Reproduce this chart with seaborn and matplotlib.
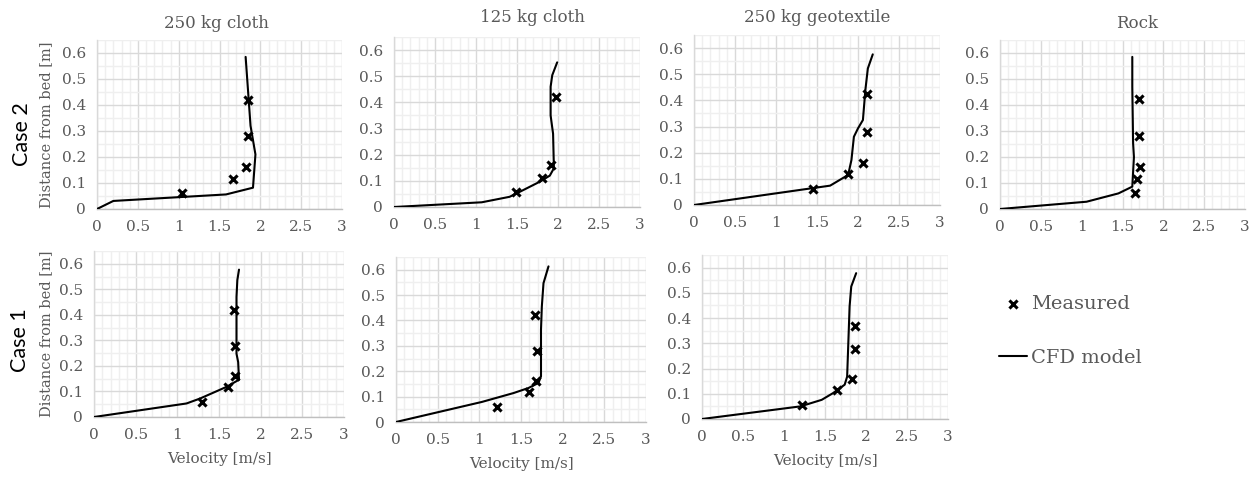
import matplotlib
matplotlib.use("Agg")
import matplotlib.pyplot as plt
from matplotlib.ticker import MultipleLocator
import seaborn as sns
import pandas as pd

# ---- velocity profiles: Case 2 (top row) ----
c2_cloth250_cfd_v = [0, 0.20, 1.58, 1.91, 1.94, 1.88, 1.82]
c2_cloth250_cfd_z = [0, 0.031, 0.056, 0.082, 0.21, 0.32, 0.585]
c2_cloth250_meas_v = [1.04, 1.66, 1.82, 1.85, 1.85]
c2_cloth250_meas_z = [0.06, 0.115, 0.16, 0.28, 0.42]

c2_cloth125_cfd_v = [0, 1.07, 1.41, 1.54, 1.78, 1.90, 1.95, 1.94, 1.91, 1.91, 1.93, 1.99]
c2_cloth125_cfd_z = [0, 0.018, 0.039, 0.059, 0.097, 0.12, 0.148, 0.28, 0.35, 0.46, 0.504, 0.553]
c2_cloth125_meas_v = [1.49, 1.81, 1.91, 1.98]
c2_cloth125_meas_z = [0.057, 0.112, 0.16, 0.42]

c2_geo250_cfd_v = [0, 1.66, 1.88, 1.92, 1.95, 2.00, 2.06, 2.09, 2.12, 2.18]
c2_geo250_cfd_z = [0, 0.074, 0.115, 0.172, 0.261, 0.293, 0.325, 0.44, 0.522, 0.576]
c2_geo250_meas_v = [1.45, 1.88, 2.06, 2.11, 2.11]
c2_geo250_meas_z = [0.06, 0.117, 0.162, 0.28, 0.423]

c2_rock_cfd_v = [0, 1.06, 1.45, 1.62, 1.64, 1.63, 1.62, 1.62]
c2_rock_cfd_z = [0, 0.028, 0.06, 0.086, 0.20, 0.252, 0.47, 0.585]
c2_rock_meas_v = [1.65, 1.68, 1.71, 1.70, 1.70]
c2_rock_meas_z = [0.06, 0.115, 0.162, 0.28, 0.425]

# ---- velocity profiles: Case 1 (bottom row) ----
c1_cloth250_cfd_v = [0, 1.11, 1.27, 1.43, 1.59, 1.74, 1.73, 1.71, 1.71, 1.72, 1.74]
c1_cloth250_cfd_z = [0, 0.053, 0.072, 0.095, 0.118, 0.146, 0.215, 0.248, 0.47, 0.536, 0.577]
c1_cloth250_meas_v = [1.30, 1.61, 1.69, 1.69, 1.68]
c1_cloth250_meas_z = [0.06, 0.117, 0.16, 0.278, 0.42]

c1_cloth125_cfd_v = [0, 1.03, 1.41, 1.59, 1.71, 1.74, 1.74, 1.75, 1.77, 1.83]
c1_cloth125_cfd_z = [0, 0.079, 0.114, 0.134, 0.154, 0.18, 0.364, 0.455, 0.547, 0.613]
c1_cloth125_meas_v = [1.21, 1.60, 1.68, 1.69, 1.67]
c1_cloth125_meas_z = [0.058, 0.117, 0.16, 0.281, 0.423]

c1_geo250_cfd_v = [0, 1.20, 1.46, 1.60, 1.74, 1.77, 1.80, 1.82, 1.88]
c1_geo250_cfd_z = [0, 0.05, 0.076, 0.103, 0.136, 0.168, 0.446, 0.525, 0.578]
c1_geo250_meas_v = [1.22, 1.65, 1.83, 1.87, 1.86]
c1_geo250_meas_z = [0.057, 0.116, 0.16, 0.278, 0.37]

column_titles = ["250 kg cloth", "125 kg cloth", "250 kg geotextile", "Rock"]
row_labels = ["Case 2", "Case 1"]
x_ticks = [0, 0.5, 1, 1.5, 2, 2.5, 3]
x_tick_labels = ["0", "0.5", "1", "1.5", "2", "2.5", "3"]
y_ticks = [0, 0.1, 0.2, 0.3, 0.4, 0.5, 0.6]
y_tick_labels = ["0", "0.1", "0.2", "0.3", "0.4", "0.5", "0.6"]

W, H = 1260, 478
TEXT = "#595959"
SERIF = "DejaVu Serif"

sns.set_theme(style="white")
plt.rcParams["font.family"] = [SERIF]

fig = plt.figure(figsize=(W / 100, H / 100), dpi=100)


def px_axes(left, right, top, bottom):
    return fig.add_axes([left / W, 1 - bottom / H, (right - left) / W, (bottom - top) / H])


# axes boxes in pixels: left, right, top (z=0.65), bottom (z=0)
panels = [
    (px_axes(97, 342, 40, 209), c2_cloth250_cfd_v, c2_cloth250_cfd_z, c2_cloth250_meas_v, c2_cloth250_meas_z),
    (px_axes(394, 640, 37, 207), c2_cloth125_cfd_v, c2_cloth125_cfd_z, c2_cloth125_meas_v, c2_cloth125_meas_z),
    (px_axes(694, 940, 35, 205), c2_geo250_cfd_v, c2_geo250_cfd_z, c2_geo250_meas_v, c2_geo250_meas_z),
    (px_axes(1000, 1245, 40, 209), c2_rock_cfd_v, c2_rock_cfd_z, c2_rock_meas_v, c2_rock_meas_z),
    (px_axes(94, 344, 251, 417), c1_cloth250_cfd_v, c1_cloth250_cfd_z, c1_cloth250_meas_v, c1_cloth250_meas_z),
    (px_axes(396, 646, 257, 422), c1_cloth125_cfd_v, c1_cloth125_cfd_z, c1_cloth125_meas_v, c1_cloth125_meas_z),
    (px_axes(702, 948, 255, 419), c1_geo250_cfd_v, c1_geo250_cfd_z, c1_geo250_meas_v, c1_geo250_meas_z),
]

for i, (ax, cv, cz, mv, mz) in enumerate(panels):
    cfd = pd.DataFrame({"v": cv, "z": cz})
    meas = pd.DataFrame({"v": mv, "z": mz})
    sns.lineplot(data=cfd, x="v", y="z", sort=False, estimator=None, color="black",
                 linewidth=1.5, ax=ax, label="CFD model", zorder=3)
    sns.scatterplot(data=meas, x="v", y="z", marker="x", color="black", s=34,
                    linewidth=2.2, ax=ax, label="Measured", zorder=4)
    ax.get_legend().remove()

    ax.set_xlim(0, 3)
    ax.set_ylim(0, 0.65)
    ax.set_xticks(x_ticks)
    ax.set_xticklabels(x_tick_labels)
    ax.set_yticks(y_ticks)
    ax.set_yticklabels(y_tick_labels)
    ax.xaxis.set_minor_locator(MultipleLocator(0.1))
    ax.yaxis.set_minor_locator(MultipleLocator(0.05))
    ax.grid(which="major", color="#d9d9d9", linewidth=1.0)
    ax.grid(which="minor", color="#efefef", linewidth=1.0)
    ax.set_axisbelow(True)
    ax.tick_params(axis="both", which="both", length=0, labelsize=11, labelcolor=TEXT)
    ax.tick_params(axis="x", pad=8)
    ax.tick_params(axis="y", pad=8)
    for side in ("top", "right"):
        ax.spines[side].set_visible(False)
    ax.spines["left"].set_color("#d9d9d9")
    ax.spines["bottom"].set_color("#bfbfbf")
    ax.spines["left"].set_linewidth(1.0)
    ax.spines["bottom"].set_linewidth(1.0)
    ax.set_xlabel("")
    ax.set_ylabel("")
    if i >= 4:
        ax.set_xlabel("Velocity [m/s]", fontsize=11, color=TEXT, labelpad=7)
    if i in (0, 4):
        ax.set_ylabel("Distance from bed [m]", fontsize=10.5, color=TEXT)
        ax.yaxis.set_label_coords((53 - (97 if i == 0 else 94)) / (245 if i == 0 else 250), 0.5)

# column headings
title_pos = [(216, 23), (532, 17), (817, 17), (1137, 24)]
for t, (x, y) in zip(column_titles, title_pos):
    fig.text(x / W, 1 - y / H, t, ha="center", va="center", fontsize=12, color=TEXT)

# row headings
for t, (x, y) in zip(row_labels, [(22, 134), (20, 340)]):
    fig.text(x / W, 1 - y / H, t, ha="center", va="center", rotation=90,
             fontsize=15.5, color="black", family="Lato")

# shared legend
handles, labels = panels[0][0].get_legend_handles_labels()
order = [labels.index("Measured"), labels.index("CFD model")]
fig.legend([handles[k] for k in order], [labels[k] for k in order],
           loc="upper left", bbox_to_anchor=(999 / W, 1 - 295 / H), frameon=False,
           fontsize=14, labelcolor=TEXT, handlelength=1.45, handletextpad=0.2,
           labelspacing=1.85, borderpad=0, borderaxespad=0)

fig.savefig("out.png", dpi=100)
